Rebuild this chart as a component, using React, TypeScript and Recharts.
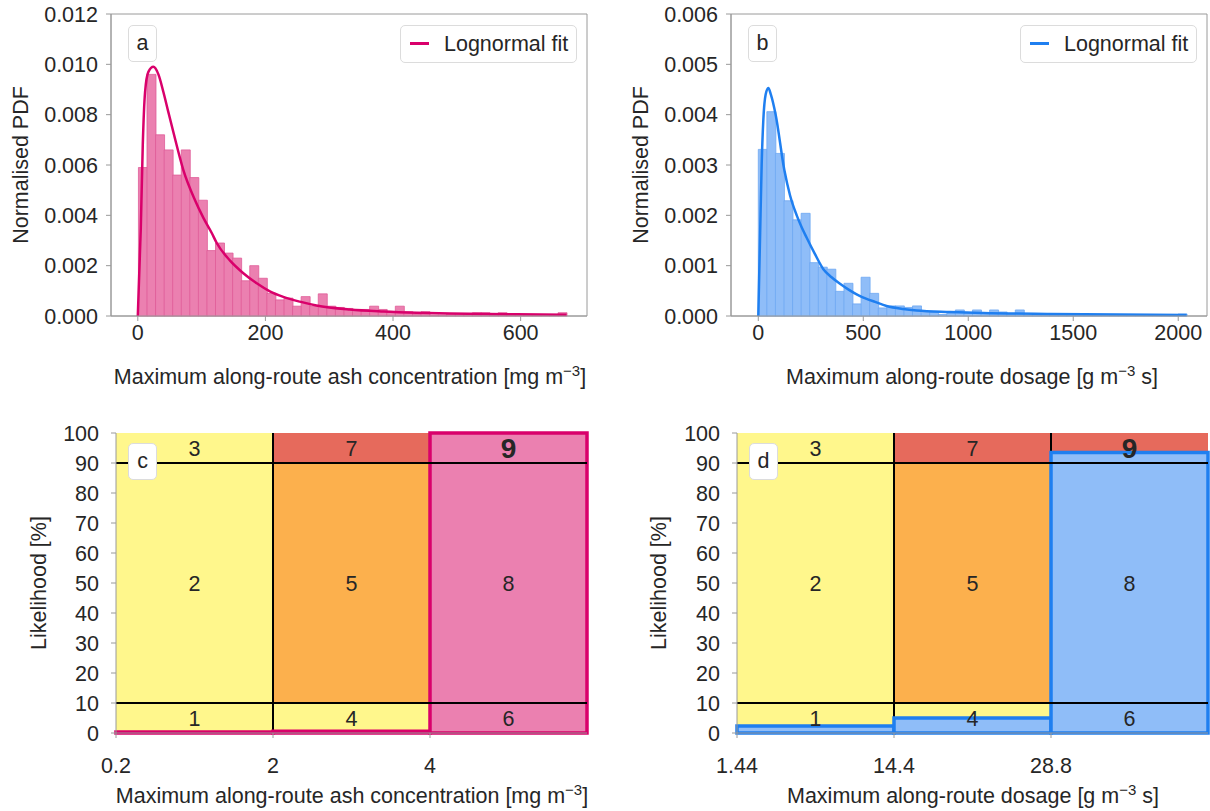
import React from 'react';
import { ComposedChart, Bar, Line, XAxis, YAxis, ReferenceArea, ReferenceLine } from 'recharts';

const FONT = '"Liberation Sans", Arial, sans-serif';
const INK = '#262626';
const SPINE = '#9a9a9a';

// (a) ash concentration histogram
const CONC_BIN_START = 1;
const CONC_BIN_WIDTH = 13.42;
const CONC_PDF = [
  0.0059, 0.0096, 0.0072, 0.0066, 0.0056, 0.0066, 0.0055, 0.0046, 0.0026, 0.0029,
  0.0025, 0.0023, 0.0014, 0.002, 0.0015, 0.0009, 0.00064, 0.00071, 0.00039, 0.00077,
  0.00039, 0.00088, 0.00039, 0.00034, 0.0003, 0.00026, 0.00026, 0.00039, 0.00026, 0.00015,
  0.00039, 0.00017, 0.00008, 0.00017, 0.00004, 0.00004, 0.0001, 0.0001, 0.00007, 0.00013,
  0.00013, 0.00005, 0.00013, 0.00007, 0.00005, 0.00005, 0.00005, 0.00005, 0.00004, 0.00013,
];
const CONC_FIT_X = [0, 4.7, 7.8, 11.4, 16.6, 24.4, 32.3, 40.1, 47.9, 55.8, 71.4, 89.7, 102.8, 115.9, 123.7, 144.6, 165.4, 186.4, 207, 228, 254, 280, 332, 385, 437, 489, 594, 672];
const CONC_FIT_Y = [0, 0.0035, 0.0068, 0.0089, 0.0097, 0.0099, 0.0096, 0.0089, 0.0081, 0.0073, 0.0058, 0.0046, 0.0039, 0.0033, 0.0029, 0.0022, 0.0017, 0.0013, 0.00098, 0.00076, 0.00057, 0.00042, 0.00026, 0.00018, 0.00013, 0.0001, 0.00007, 0.00005];
const CONC_X_TICKS = [0, 200, 400, 600];
const CONC_Y_TICKS = [0, 0.002, 0.004, 0.006, 0.008, 0.01, 0.012];

// (b) dosage histogram
const DOSE_BIN_START = 0;
const DOSE_BIN_WIDTH = 40.8;
const DOSE_PDF = [
  0.00331, 0.00406, 0.00323, 0.00229, 0.00191, 0.00204, 0.00106, 0.00097, 0.00093, 0.00049,
  0.00065, 0.00024, 0.00077, 0.00045, 0.00016, 0.0002, 0.0002, 0.00017, 0.0002, 0.00009,
  0.00008, 0.00003, 0.00005, 0.00012, 0.00005, 0.00012, 0.00005, 0.00012, 0.00008, 0.00004,
  0.00012, 0.00002, 0.00002, 0.00002, 0.00002, 0.00002, 0.00002, 0.00002, 0.00002, 0.00002,
  0.00002, 0.00002, 0.00002, 0.00003, 0.00002, 0.00002, 0.00002, 0.00002, 0.00002, 0.00004,
];
const DOSE_FIT_X = [0, 8, 16, 24, 35, 47.6, 60, 82.7, 124, 151, 183, 207, 230, 270, 310, 349, 389, 432, 473, 516, 556, 611, 690, 754, 913, 1071, 1389, 2040];
const DOSE_FIT_Y = [0, 0.0015, 0.003, 0.0039, 0.0044, 0.00453, 0.0044, 0.004, 0.0029, 0.0024, 0.002, 0.00176, 0.00156, 0.00123, 0.00093, 0.00077, 0.00064, 0.00052, 0.00042, 0.00034, 0.00028, 0.0002, 0.00014, 0.00011, 0.00008, 0.00006, 0.00004, 0.00002];
const DOSE_X_TICKS = [0, 500, 1000, 1500, 2000];
const DOSE_Y_TICKS = [0, 0.001, 0.002, 0.003, 0.004, 0.005, 0.006];

// (c, d) risk matrices
const CONC_THRESHOLDS = ['0.2', '2', '4'];
const DOSE_THRESHOLDS = ['1.44', '14.4', '28.8'];
const LIKELIHOOD_TICKS = [0, 10, 20, 30, 40, 50, 60, 70, 80, 90, 100];
const LIKELIHOOD_BANDS = [0, 10, 90, 100];
const RISK_LEVELS = [[1, 2, 3], [4, 5, 7], [6, 8, 9]];
const YELLOW = '#fff78c';
const ORANGE = '#fcb04d';
const RED = '#e66a5c';
const RISK_COLOURS = [[YELLOW, YELLOW, YELLOW], [YELLOW, ORANGE, RED], [ORANGE, RED, RED]];
const CONC_LIKELIHOOD = [0.3, 0.6, 100];
const DOSE_LIKELIHOOD = [2.3, 5, 93.5];

const PINK = { line: '#d9006b', fill: '#eb80b0', edge: '#df5c98' };
const BLUE = { line: '#1f7ff0', fill: '#8fbdf8', edge: '#6ea8f2' };

const FS = 21.5;
const tickStyle = { fill: INK, fontSize: FS, fontFamily: FONT };

function HistPanel({ left, width, marginRight, bins, binStart, binWidth, fitX, fitY, xDomain, xTicks, yTicks, colours }) {
  const data = bins.map((v, i) => ({ x: binStart + binWidth * (i + 0.5), pdf: v }));
  const fit = fitX.map((x, i) => ({ x, fit: fitY[i] }));
  const yMax = yTicks[yTicks.length - 1];
  return (
    <div style={{ position: 'absolute', left, top: 0 }}>
      <ComposedChart width={width} height={346} data={data} margin={{ top: 14, right: marginRight, bottom: 0, left: 51 }} barCategoryGap={0} barGap={0}>
        <XAxis dataKey="x" type="number" domain={xDomain} ticks={xTicks} interval={0} allowDataOverflow height={30}
          tick={tickStyle} tickSize={5} tickMargin={4} tickLine={{ stroke: SPINE }} axisLine={{ stroke: SPINE }} />
        <XAxis xAxisId="fit" dataKey="x" type="number" domain={xDomain} allowDataOverflow hide />
        <YAxis type="number" domain={[0, yMax]} ticks={yTicks} interval={0} width={60} tickFormatter={(v) => v.toFixed(3)}
          tick={tickStyle} tickSize={5} tickMargin={8} tickLine={{ stroke: SPINE }} axisLine={{ stroke: SPINE }} />
        <ReferenceArea x1={xDomain[0]} x2={xDomain[1]} y1={0} y2={yMax} fill="none" stroke={SPINE} strokeWidth={1} />
        <Bar dataKey="pdf" fill={colours.fill} stroke={colours.edge} strokeWidth={0.8} isAnimationActive={false} />
        <Line xAxisId="fit" data={fit} dataKey="fit" type="monotone" dot={false} activeDot={false} stroke={colours.line} strokeWidth={2.5} isAnimationActive={false} />
      </ComposedChart>
    </div>
  );
}

function MatrixPanel({ left, width, marginLeft, marginRight, thresholds, likelihood, colours }) {
  const data = likelihood.map((v, i) => ({ col: i + 0.5, v }));
  const cells = [];
  RISK_LEVELS.forEach((col, c) => col.forEach((level, r) => cells.push({ c, r, level, colour: RISK_COLOURS[c][r] })));
  return (
    <div style={{ position: 'absolute', left, top: 420 }}>
      <ComposedChart width={width} height={383} data={data} margin={{ top: 13, right: marginRight, bottom: 0, left: marginLeft }} barCategoryGap={0} barGap={0}>
        <XAxis dataKey="col" type="number" domain={[0, 3]} ticks={[0, 1, 2]} interval={0} tickFormatter={(v) => thresholds[v]} height={70}
          tick={tickStyle} tickSize={5} tickMargin={20} tickLine={{ stroke: SPINE }} axisLine={{ stroke: SPINE }} />
        <YAxis type="number" domain={[0, 100]} ticks={LIKELIHOOD_TICKS} interval={0} width={60}
          tick={tickStyle} tickSize={5} tickMargin={12} tickLine={{ stroke: SPINE }} axisLine={{ stroke: SPINE }} />
        {cells.map((cell) => (
          <ReferenceArea key={`bg${cell.c}${cell.r}`} x1={cell.c} x2={cell.c + 1} y1={LIKELIHOOD_BANDS[cell.r]} y2={LIKELIHOOD_BANDS[cell.r + 1]}
            fill={cell.colour} fillOpacity={1} stroke="none" />
        ))}
        <ReferenceLine x={1} stroke="#000" strokeWidth={2} zIndex={250} />
        <ReferenceLine x={2} stroke="#000" strokeWidth={2} zIndex={250} />
        <Bar dataKey="v" fill={colours.fill} stroke={colours.line} strokeWidth={3.5} isAnimationActive={false} />
        <ReferenceLine y={10} stroke="#000" strokeWidth={2} />
        <ReferenceLine y={90} stroke="#000" strokeWidth={2} />
        {cells.map((cell) => (
          <ReferenceArea key={`lb${cell.c}${cell.r}`} x1={cell.c} x2={cell.c + 1} y1={LIKELIHOOD_BANDS[cell.r]} y2={LIKELIHOOD_BANDS[cell.r + 1]}
            fill="none" stroke="none"
            label={{
              value: String(cell.level), position: 'center', fill: INK, fontFamily: FONT,
              fontSize: cell.level === 9 ? 28 : FS, fontWeight: cell.level === 9 ? 'bold' : 'normal',
            }} />
        ))}
      </ComposedChart>
    </div>
  );
}

const textBase: React.CSSProperties = { position: 'absolute', fontFamily: FONT, fontSize: FS, color: INK, whiteSpace: 'nowrap', lineHeight: 1 };

function XTitle({ cx, cy, children }) {
  return <div style={{ ...textBase, left: cx, top: cy, transform: 'translate(-50%, -50%)' }}>{children}</div>;
}

function YTitle({ cx, cy, children }) {
  return <div style={{ ...textBase, left: cx, top: cy, transform: 'translate(-50%, -50%) rotate(-90deg)' }}>{children}</div>;
}

const Sup = ({ children }) => <span style={{ fontSize: 15, position: 'relative', top: -8 }}>{children}</span>;

function LetterBox({ left, top, letter }) {
  return (
    <div style={{ ...textBase, left, top, width: 29, height: 37, boxSizing: 'border-box', background: '#fff', border: '1px solid #dcdcdc', borderRadius: 5, display: 'flex', alignItems: 'center', justifyContent: 'center' }}>
      {letter}
    </div>
  );
}

function LegendBox({ left, colour }) {
  return (
    <div style={{ ...textBase, left, top: 25, width: 177, height: 38, boxSizing: 'border-box', background: '#fff', border: '1px solid #dcdcdc', borderRadius: 5 }}>
      <div style={{ position: 'absolute', left: 9, top: 16, width: 19, height: 2.5, background: colour }} />
      <div style={{ position: 'absolute', left: 43, top: 8 }}>Lognormal fit</div>
    </div>
  );
}

export default function App() {
  return (
    <div style={{ position: 'absolute', left: 0, top: 0, width: 1210, height: 811, overflow: 'hidden', background: '#fff' }}>
      <HistPanel left={0} width={600} marginRight={13} bins={CONC_PDF} binStart={CONC_BIN_START} binWidth={CONC_BIN_WIDTH}
        fitX={CONC_FIT_X} fitY={CONC_FIT_Y} xDomain={[-42, 704]} xTicks={CONC_X_TICKS} yTicks={CONC_Y_TICKS} colours={PINK} />
      <HistPanel left={620} width={590} marginRight={3} bins={DOSE_PDF} binStart={DOSE_BIN_START} binWidth={DOSE_BIN_WIDTH}
        fitX={DOSE_FIT_X} fitY={DOSE_FIT_Y} xDomain={[-130, 2137]} xTicks={DOSE_X_TICKS} yTicks={DOSE_Y_TICKS} colours={BLUE} />
      <MatrixPanel left={0} width={600} marginLeft={56} marginRight={13} thresholds={CONC_THRESHOLDS} likelihood={CONC_LIKELIHOOD} colours={PINK} />
      <MatrixPanel left={620} width={590} marginLeft={57} marginRight={2} thresholds={DOSE_THRESHOLDS} likelihood={DOSE_LIKELIHOOD} colours={BLUE} />

      <LetterBox left={128} top={25} letter="a" />
      <LetterBox left={748} top={25} letter="b" />
      <LetterBox left={128} top={443} letter="c" />
      <LetterBox left={749} top={443} letter="d" />
      <LegendBox left={400} colour={PINK.line} />
      <LegendBox left={1020} colour={BLUE.line} />

      <YTitle cx={22} cy={165}>Normalised PDF</YTitle>
      <YTitle cx={642} cy={165}>Normalised PDF</YTitle>
      <YTitle cx={40} cy={583}>Likelihood [%]</YTitle>
      <YTitle cx={660} cy={583}>Likelihood [%]</YTitle>
      <XTitle cx={350} cy={378}>Maximum along-route ash concentration [mg m<Sup>−3</Sup>]</XTitle>
      <XTitle cx={972} cy={378}>Maximum along-route dosage [g m<Sup>−3</Sup> s]</XTitle>
      <XTitle cx={352} cy={797}>Maximum along-route ash concentration [mg m<Sup>−3</Sup>]</XTitle>
      <XTitle cx={973} cy={797}>Maximum along-route dosage [g m<Sup>−3</Sup> s]</XTitle>
    </div>
  );
}
